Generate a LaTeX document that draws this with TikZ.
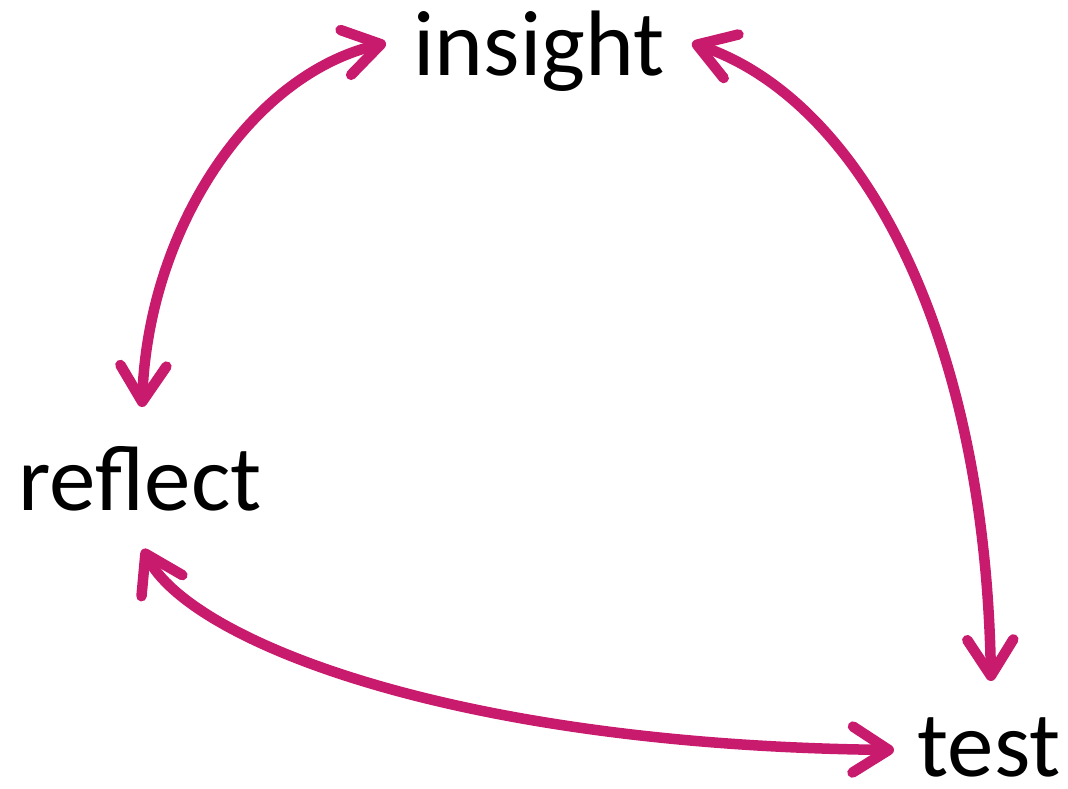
\documentclass[tikz,border=0pt]{standalone}
\usepackage{fontspec}
\setmainfont{Carlito}
\usetikzlibrary{arrows.meta}
\definecolor{arc}{RGB}{200,27,110}
\tikzset{
  lbl/.style={anchor=base, inner sep=0pt, font=\fontsize{93}{100}\selectfont},
  link/.style={draw=arc, line width=10.5pt, line cap=round,
    {Straight Barb[round,length=36pt,width=46pt]}-{Straight Barb[round,length=36pt,width=46pt]}}
}
\begin{document}
\begin{tikzpicture}[x=1pt,y=-1pt]
\useasboundingbox (0,0) rectangle (1068,788);
\node[lbl] (insight) at (539,75) {insight};
\node[lbl] (reflect) at (140,510) {reflect};
\node[lbl] (test) at (989,776) {test};
\coordinate (insightW) at (386,43);
\coordinate (insightE) at (692,43);
\coordinate (reflectN) at (142,407);
\coordinate (reflectS) at (143,549);
\coordinate (testN) at (991,681);
\coordinate (testW) at (894,750);
\draw[link] (reflectN) .. controls (148,230) and (250,75) .. (insightW);
\draw[link] (insightE) .. controls (860,100) and (985,330) .. (testN);
\draw[link] (reflectS) .. controls (190,640) and (450,745) .. (testW);
\end{tikzpicture}
\end{document}
